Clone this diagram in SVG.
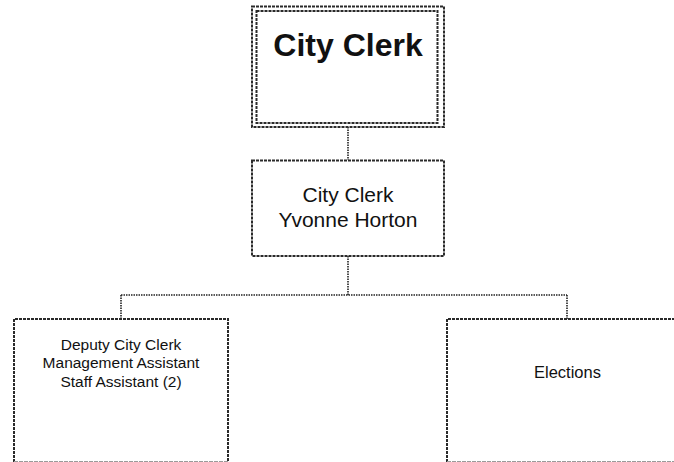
<svg xmlns="http://www.w3.org/2000/svg" width="674" height="462" viewBox="0 0 674 462">
  <style>
    .box { fill: #fff; stroke: #2a2a2a; stroke-width: 2; stroke-dasharray: 3 1; }
    .edge { fill: none; stroke: #2a2a2a; stroke-width: 2; stroke-dasharray: 3 1; }
    .base { fill: none; stroke: #9a9a9a; stroke-width: 1; stroke-dasharray: 4 1; }
    .link { fill: none; stroke: #222; stroke-width: 1.6; stroke-dasharray: 1.5 1; }
    .t { font-family: "Liberation Sans", Arial, sans-serif; fill: #111; text-anchor: middle; }
  </style>
  <rect width="674" height="462" fill="#fff"/>

  <g id="connectors">
    <line class="link" x1="348" y1="127" x2="348" y2="160"/>
    <line class="link" x1="348" y1="256" x2="348" y2="295"/>
    <line class="link" x1="121" y1="295" x2="567" y2="295"/>
    <line class="link" x1="121" y1="295" x2="121" y2="319"/>
    <line class="link" x1="567" y1="295" x2="567" y2="319"/>
  </g>

  <g id="department">
    <rect class="box" x="252" y="6.5" width="192" height="120.5"/>
    <rect class="box" x="256.5" y="11" width="181" height="112"/>
    <text class="t" x="348" y="56" font-size="32" font-weight="bold">City Clerk</text>
  </g>

  <g id="city-clerk">
    <rect class="box" x="252" y="160.5" width="192" height="95.5"/>
    <text class="t" x="348" y="202" font-size="21">City Clerk</text>
    <text class="t" x="348" y="227" font-size="21">Yvonne Horton</text>
  </g>

  <g id="staff">
    <path class="edge" d="M14 462 V319 H228 V462"/>
    <line class="base" x1="14" y1="461.5" x2="228" y2="461.5"/>
    <text class="t" x="121" y="350" font-size="15.5">Deputy City Clerk</text>
    <text class="t" x="121" y="368" font-size="15.5">Management Assistant</text>
    <text class="t" x="121" y="386.5" font-size="15.5">Staff Assistant (2)</text>
  </g>

  <g id="elections">
    <path class="edge" d="M447 462 V319 H680"/>
    <line class="base" x1="447" y1="461.5" x2="674" y2="461.5"/>
    <text class="t" x="567.5" y="377.5" font-size="16.5">Elections</text>
  </g>
</svg>
